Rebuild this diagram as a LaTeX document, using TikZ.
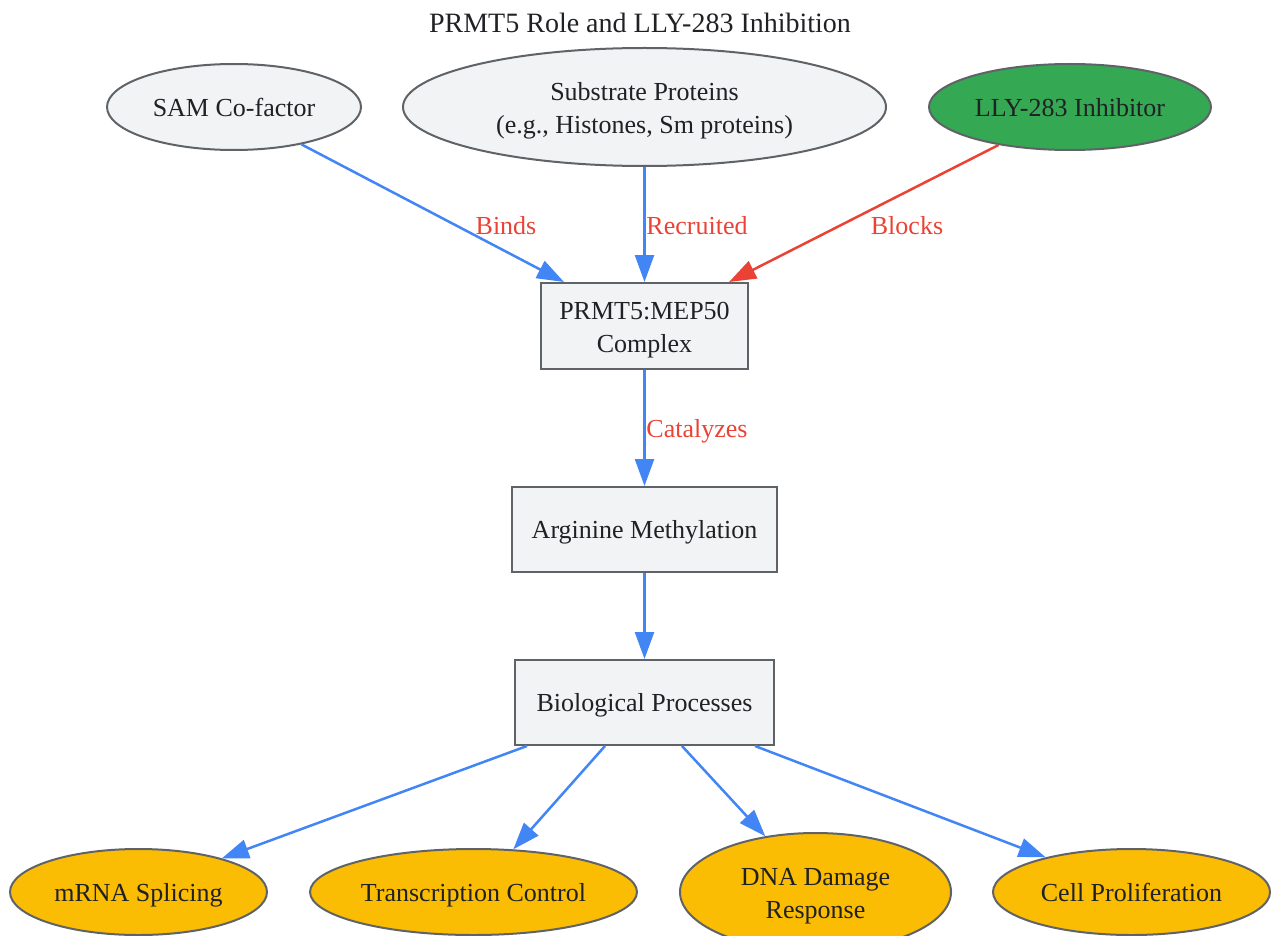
\documentclass[tikz,border=0pt]{standalone}
\usepackage{fontspec}
\setmainfont{Liberation Serif}
\usetikzlibrary{shapes.geometric,arrows.meta,calc}
\definecolor{nodefill}{HTML}{F1F3F4}
\definecolor{nodeline}{HTML}{5F6368}
\definecolor{txt}{HTML}{202124}
\definecolor{gblue}{HTML}{4285F4}
\definecolor{gred}{HTML}{EA4335}
\definecolor{ggreen}{HTML}{34A853}
\definecolor{gyellow}{HTML}{FBBC04}
\newcommand{\sttop}{\rule{0pt}{26pt}}
\tikzset{
  base/.style={draw=nodeline, line width=2pt, text=txt, inner sep=0pt, align=center,
    font=\fontsize{26}{33}\selectfont},
  one/.style={text height=22.4pt, text depth=3.6pt},
  oval/.style={base, ellipse, fill=nodefill},
  box/.style={base, rectangle, fill=nodefill},
  outoval/.style={base, ellipse, fill=gyellow},
  inhib/.style={base, ellipse, fill=ggreen},
  edge/.style={draw=gblue, line width=2.5pt, -{Triangle[length=27pt,width=19pt]}},
  redge/.style={draw=gred, line width=2.5pt, -{Triangle[length=27pt,width=19pt]}},
  lbl/.style={text=gred, font=\fontsize{26}{32}\selectfont, inner sep=0pt, one},
  ttl/.style={text=txt, font=\fontsize{28}{34}\selectfont, inner sep=0pt,
    text height=24.1pt, text depth=3.9pt}
}
\begin{document}
\begin{tikzpicture}[x=1pt,y=-1pt]
\useasboundingbox (0,0) rectangle (1273,936);
\clip (0,0) rectangle (1273,936);
\node[ttl] (title) at (640,22) {PRMT5 Role and LLY-283 Inhibition};

\node[oval, one, minimum width=254pt, minimum height=86pt] (sam) at (234,107) {SAM Co-factor};
\node[oval, minimum width=483pt, minimum height=118pt] (sub) at (644.5,107) {\sttop Substrate Proteins\\(e.g., Histones, Sm proteins)};
\node[inhib, one, minimum width=282pt, minimum height=86pt] (lly) at (1070,107) {LLY-283 Inhibitor};

\node[box, minimum width=207pt, minimum height=86pt] (prmt) at (644.5,326) {\sttop PRMT5:MEP50\\Complex};
\node[box, one, minimum width=265pt, minimum height=85pt] (arg) at (644.5,529.5) {Arginine Methylation};
\node[box, one, minimum width=259pt, minimum height=85pt] (bio) at (644.5,702.5) {Biological Processes};

\node[outoval, one, minimum width=257pt, minimum height=86pt] (mrna) at (138.5,892) {mRNA Splicing};
\node[outoval, one, minimum width=327pt, minimum height=86pt] (tc) at (473.5,892) {Transcription Control};
\node[outoval, minimum width=271pt, minimum height=118pt] (dna) at (815.5,892) {\sttop DNA Damage\\Response};
\node[outoval, one, minimum width=277pt, minimum height=86pt] (cell) at (1131.5,892) {Cell Proliferation};

\draw[edge] (sam.-29) -- ([xshift=24pt]prmt.north west);
\draw[edge] (sub.south) -- (prmt.north);
\draw[redge] (lly.208) -- ([xshift=-20pt]prmt.north east);
\draw[edge] (prmt.south) -- (arg.north);
\draw[edge] (arg.south) -- (bio.north);
\draw[edge] ([xshift=13pt]bio.south west) -- (mrna.22);
\draw[edge] ([xshift=91pt]bio.south west) -- (tc.47);
\draw[edge] ([xshift=168pt]bio.south west) -- (dna.132);
\draw[edge] ([xshift=-20pt]bio.south east) -- (cell.158);

\node[lbl] (lbinds) at (506,225) {Binds};
\node[lbl] (lrec) at (697,225) {Recruited};
\node[lbl] (lblock) at (907,225) {Blocks};
\node[lbl] (lcat) at (697,428) {Catalyzes};
\end{tikzpicture}
\end{document}
